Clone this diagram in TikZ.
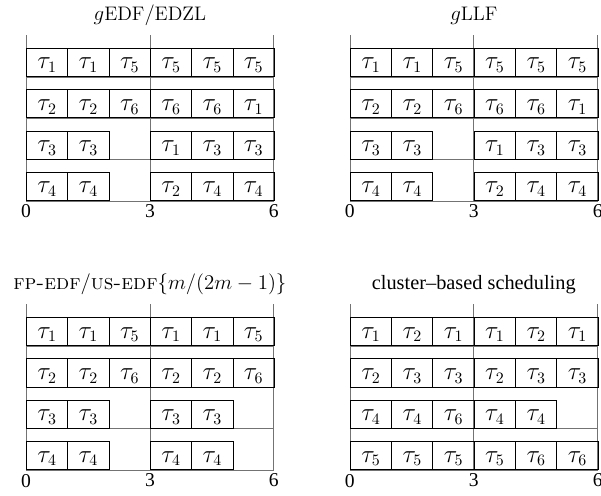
\documentclass[tikz,border=0pt]{standalone}
\usepackage{amsmath, amssymb}
\usepackage{fontspec}
\newfontfamily\timesfont[Ligatures=TeX]{Liberation Serif}
\usepackage{tikz}
\usetikzlibrary{positioning}

\tikzset{
  slot/.style={draw=black, line width=0.6pt, minimum width=1cm, minimum height=0.68cm,
    inner sep=0pt, anchor=south west, font=\fontsize{16}{18}\selectfont},
  axis/.style={draw=black!55, line width=0.5pt},
  tick/.style={anchor=north, inner sep=2.5pt, font=\timesfont\fontsize{13.5}{15}\selectfont},
  ptitle/.style={anchor=base, inner sep=0pt, font=\fontsize{13.5}{15}\selectfont},
}

% one panel: name, rows (0 = idle slot)
\newcommand{\drawpanel}[2]{%
  \foreach \i in {1,...,4} {
    \coordinate (#1-b\i-l) at (0,4-\i);
    \coordinate (#1-b\i-r) at (6,4-\i);
    \draw[axis] (#1-b\i-l) -- (#1-b\i-r);
  }
  \foreach \x in {0,3,6} {
    \coordinate (#1-v\x-b) at (\x,0);
    \coordinate (#1-v\x-t) at (\x,4.02);
    \draw[axis] (#1-v\x-b) -- (#1-v\x-t);
    \node[tick] (#1-t\x) at (#1-v\x-b) {\x};
  }
  \foreach \r [count=\i] in {#2} {
    \foreach \t [count=\j] in \r {
      \ifnum\t>0
        \node[slot] (#1-\i-\j) at (\j-1,4-\i) {\raisebox{-2pt}[\height][\depth]{$\tau_{\t}$}};
      \fi
    }
  }
}

\begin{document}
\begin{tikzpicture}
        \useasboundingbox (0,0) rectangle (14.55,11.985);

        % gEDF/EDZL
        \begin{scope}[shift={(0.63,7.12)}]
        \drawpanel{edf}{{1,1,5,5,5,5},{2,2,6,6,6,1},{3,3,0,1,3,3},{4,4,0,2,4,4}}
        \node[ptitle] (edf-title) at (3,4.36) {$g\mathrm{EDF}/\mathrm{EDZL}$};
        \end{scope}

        % gLLF
        \begin{scope}[shift={(8.47,7.12)}]
        \drawpanel{llf}{{1,1,5,5,5,5},{2,2,6,6,6,1},{3,3,0,1,3,3},{4,4,0,2,4,4}}
        \node[ptitle] (llf-title) at (3,4.36) {$g\mathrm{LLF}$};
        \end{scope}

        % FP-EDF/US-EDF
        \begin{scope}[shift={(0.63,0.605)}]
        \drawpanel{fp}{{1,1,5,1,1,5},{2,2,6,2,2,6},{3,3,0,3,3,0},{4,4,0,4,4,0}}
        \node[ptitle, font=\fontsize{14.5}{16}\selectfont] (fp-title) at (3,4.38) {\textsc{fp-edf}/\textsc{us-edf}$\{m/(2m-1)\}$};
        \end{scope}

        % cluster-based
        \begin{scope}[shift={(8.47,0.605)}]
        \drawpanel{cl}{{1,2,1,1,2,1},{2,3,3,2,3,3},{4,4,6,4,4,0},{5,5,5,5,6,6}}
        \node[ptitle, font=\timesfont\fontsize{14}{16}\selectfont] (cl-title) at (3,4.38) {cluster--based scheduling};
        \end{scope}
\end{tikzpicture}
\end{document}
